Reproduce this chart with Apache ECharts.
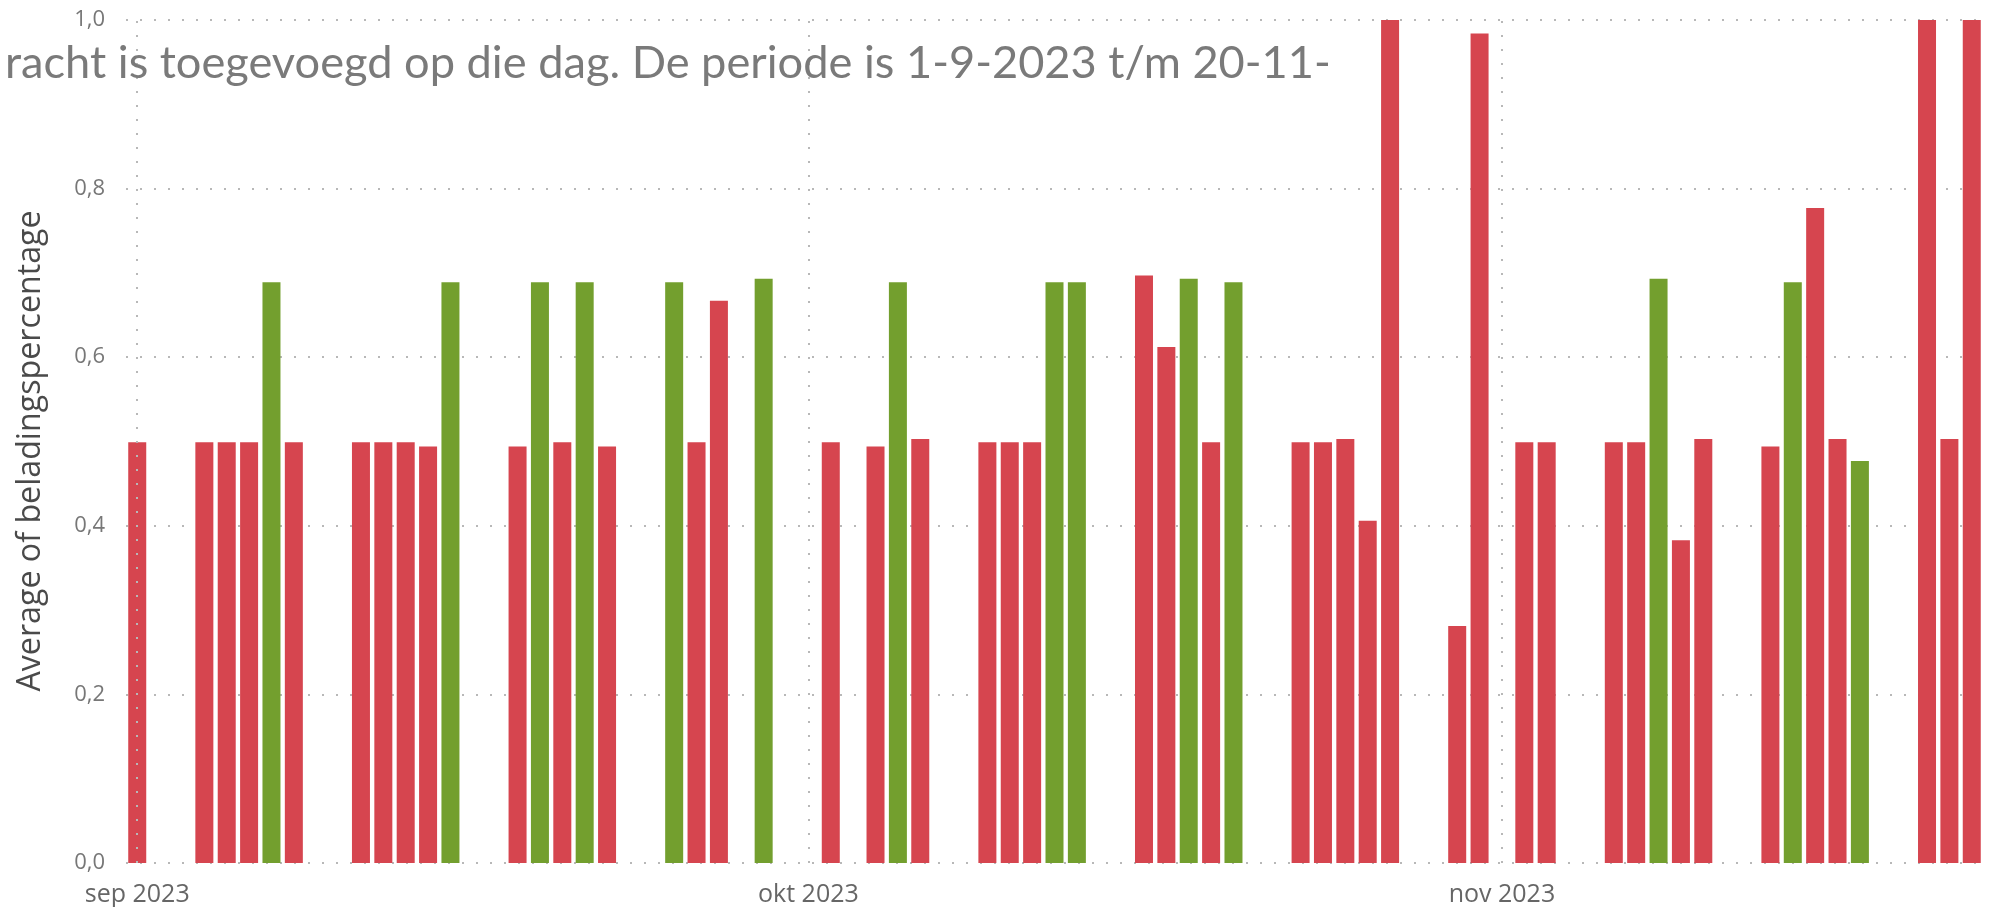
<!DOCTYPE html>
<html>
<head>
<meta charset="utf-8">
<script src="https://cdn.jsdelivr.net/npm/echarts@6/dist/echarts.min.js"></script>
<style>
  html, body { margin: 0; padding: 0; background: #fff; }
  #chart { width: 1992px; height: 907px; }
</style>
</head>
<body>
<div id="chart"></div>
<script>
// werkdagen met lading, 1-9-2023 t/m 22-11-2023
const dates = [
  '2023-09-01',
  '2023-09-04', '2023-09-05', '2023-09-06', '2023-09-07', '2023-09-08',
  '2023-09-11', '2023-09-12', '2023-09-13', '2023-09-14', '2023-09-15',
  '2023-09-18', '2023-09-19', '2023-09-20', '2023-09-21', '2023-09-22',
  '2023-09-25', '2023-09-26', '2023-09-27', '2023-09-29',
  '2023-10-02', '2023-10-04', '2023-10-05', '2023-10-06',
  '2023-10-09', '2023-10-10', '2023-10-11', '2023-10-12', '2023-10-13',
  '2023-10-16', '2023-10-17', '2023-10-18', '2023-10-19', '2023-10-20',
  '2023-10-23', '2023-10-24', '2023-10-25', '2023-10-26', '2023-10-27',
  '2023-10-30', '2023-10-31',
  '2023-11-02', '2023-11-03',
  '2023-11-06', '2023-11-07', '2023-11-08', '2023-11-09', '2023-11-10',
  '2023-11-13', '2023-11-14', '2023-11-15', '2023-11-16', '2023-11-17',
  '2023-11-20', '2023-11-21', '2023-11-22'
];

const values = [
  0.499,
  0.499, 0.499, 0.499, 0.689, 0.499,
  0.499, 0.499, 0.499, 0.494, 0.689,
  0.494, 0.689, 0.499, 0.689, 0.494,
  0.689, 0.499, 0.667, 0.693,
  0.499, 0.494, 0.689, 0.503,
  0.499, 0.499, 0.499, 0.689, 0.689,
  0.697, 0.612, 0.693, 0.499, 0.689,
  0.499, 0.499, 0.503, 0.406, 1.0,
  0.281, 0.984,
  0.499, 0.499,
  0.499, 0.499, 0.693, 0.383, 0.503,
  0.494, 0.689, 0.777, 0.503, 0.477,
  1.0, 0.503, 1.0
];

// g = groen, r = rood
const status = [
  'r',
  'r', 'r', 'r', 'g', 'r',
  'r', 'r', 'r', 'r', 'g',
  'r', 'g', 'r', 'g', 'r',
  'g', 'r', 'r', 'g',
  'r', 'r', 'g', 'r',
  'r', 'r', 'r', 'g', 'g',
  'r', 'r', 'g', 'r', 'g',
  'r', 'r', 'r', 'r', 'r',
  'r', 'r',
  'r', 'r',
  'r', 'r', 'g', 'r', 'r',
  'r', 'g', 'r', 'r', 'g',
  'r', 'r', 'r'
];

const monthStarts = ['2023-09-01', '2023-10-01', '2023-11-01'];
const monthLabels = ['sep 2023', 'okt 2023', 'nov 2023'];

const titleText = 'racht is toegevoegd op die dag. De periode is 1-9-2023 t/m 20-11-';
const yName = 'Average of beladingspercentage';

const colors = { r: '#D6454F', g: '#739F2E' };
const DAY = 24 * 3600 * 1000;
// echarts zet zelf al een halve staafbreedte extra ruimte aan de randen
const EDGE = 0.1 * DAY;
const gridLine = { color: '#b8b8b8', width: 2, type: [2, 12] };

function toTime(s) {
  const [y, m, d] = s.split('-').map(Number);
  return new Date(y, m - 1, d).getTime();
}

// lettergrootte zo kiezen dat de tekst de gewenste breedte krijgt
function fitSize(text, family, target) {
  const ctx = document.createElement('canvas').getContext('2d');
  ctx.font = '40px ' + family;
  return 40 * target / ctx.measureText(text).width;
}

const monthTimes = monthStarts.map(toTime);

const chart = echarts.init(document.getElementById('chart'));

const option = {
  animation: false,
  grid: { left: 126, right: 9, top: 20, bottom: 42 },
  xAxis: {
    type: 'time',
    min: toTime(dates[0]) - EDGE,
    max: toTime(dates[dates.length - 1]) + EDGE,
    splitNumber: 3,
    axisLine: { show: false },
    axisTick: { show: false },
    axisLabel: {
      formatter: (v) => {
        const i = monthTimes.findIndex(t => Math.abs(t - v) < DAY / 2);
        return i >= 0 ? monthLabels[i] : '';
      },
      hideOverlap: false,
      color: '#666',
      fontFamily: 'Open Sans',
      fontSize: 25,
      margin: 19
    },
    splitLine: { show: false }
  },
  yAxis: {
    type: 'value',
    min: 0,
    max: 1,
    interval: 0.2,
    axisLine: { show: false },
    axisTick: { show: false },
    axisLabel: {
      formatter: (v) => v.toFixed(1).replace('.', ','),
      color: '#777',
      fontFamily: 'Open Sans',
      fontSize: 22,
      margin: 21
    },
    splitLine: { lineStyle: gridLine }
  },
  graphic: [
    {
      type: 'text',
      left: 5,
      top: 41,
      z: 100,
      style: {
        text: titleText,
        fill: '#7a7a7a',
        font: fitSize(titleText, 'Lato', 1326).toFixed(1) + 'px Lato'
      }
    },
    {
      type: 'text',
      x: 31,
      y: 451,
      rotation: Math.PI / 2,
      style: {
        text: yName,
        fill: '#4a4a4a',
        align: 'center',
        verticalAlign: 'middle',
        font: fitSize(yName, '"Open Sans"', 482).toFixed(1) + 'px "Open Sans"'
      }
    }
  ],
  series: [
    {
      // verticale maandlijnen, onder de staven
      type: 'line',
      z: 1,
      data: [],
      markLine: {
        silent: true,
        symbol: 'none',
        label: { show: false },
        lineStyle: gridLine,
        data: monthTimes.map(t => ({ xAxis: t }))
      }
    },
    {
      type: 'bar',
      z: 2,
      barWidth: 18,
      data: dates.map((d, i) => ({
        value: [toTime(d), values[i]],
        itemStyle: { color: colors[status[i]] }
      }))
    }
  ]
};

chart.setOption(option);
</script>
</body>
</html>
